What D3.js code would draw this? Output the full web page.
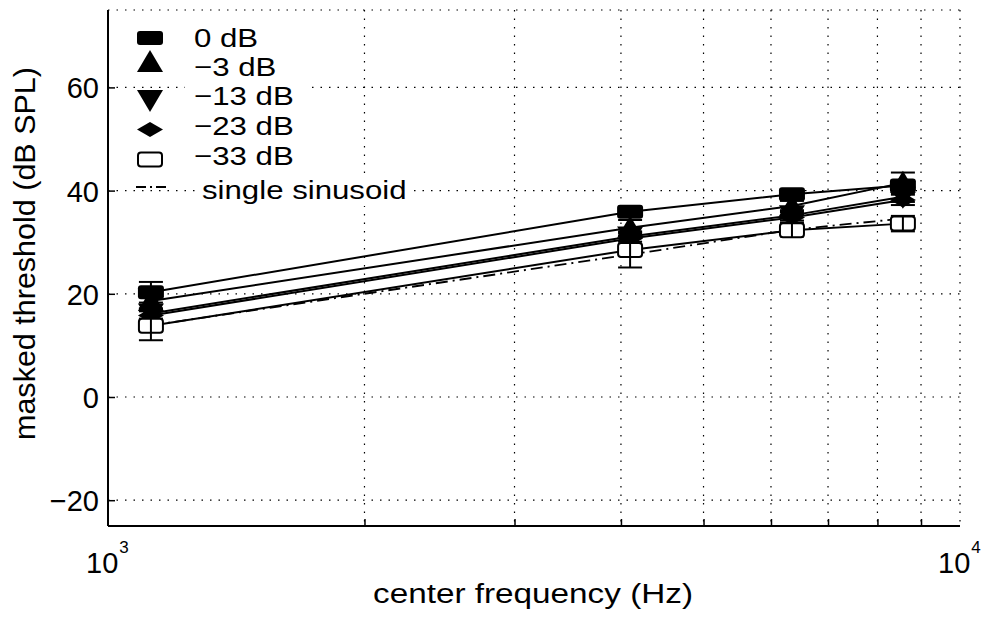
<!DOCTYPE html>
<html>
<head>
<meta charset="utf-8">
<script src="https://cdn.jsdelivr.net/npm/d3@7"></script>
<style>
  body { margin: 0; background: #fff; }
  svg { display: block; }
  text { font-family: "Liberation Sans", Arial, Helvetica, sans-serif; fill: #000; }
  .grid line { stroke: #000; stroke-width: 1.2; stroke-dasharray: 1.5, 7; }
</style>
</head>
<body>
<svg width="989" height="619"></svg>
<script>
// center frequencies (Hz)
const frequencies = [1123, 4100, 6350, 8570];

// masker levels (legend labels)
const seriesNames = ['0 dB', '\u22123 dB', '\u221213 dB', '\u221223 dB', '\u221233 dB'];

// masked thresholds (dB SPL) per masker level
const thr0 = [20.3, 35.9, 39.3, 41.0];
const thr3 = [18.6, 32.8, 37.0, 41.5];
const thr13 = [16.2, 31.1, 35.2, 38.8];
const thr23 = [15.8, 30.7, 34.8, 38.2];
const thr33 = [13.8, 28.5, 32.3, 33.6];

// error bar half-widths (dB)
const err0 = [2.0, 1.0, 1.0, 1.0];
const err3 = [1.5, 1.5, 1.0, 2.0];
const err13 = [1.0, 1.0, 1.0, 1.0];
const err23 = [1.0, 1.0, 1.0, 1.0];
const err33 = [2.8, 3.4, 1.2, 1.5];

// single sinusoid reference
const sinusoid = [13.9, 27.6, 32.4, 34.6];

const yTicks = [-20, 0, 20, 40, 60];
const xGrid = [2000, 3000, 4000, 5000, 6000, 7000, 8000, 9000];

const series = [
  { name: seriesNames[0], values: thr0, err: err0, shape: 'square' },
  { name: seriesNames[1], values: thr3, err: err3, shape: 'up' },
  { name: seriesNames[2], values: thr13, err: err13, shape: 'down' },
  { name: seriesNames[3], values: thr23, err: err23, shape: 'diamond' },
  { name: seriesNames[4], values: thr33, err: err33, shape: 'open' }
];

const svg = d3.select('svg');
const pLeft = 108, pRight = 960, pTop = 10, pBottom = 526;

const x = d3.scaleLog().domain([1000, 10000]).range([pLeft, pRight]);
const y = d3.scaleLinear().domain([-25, 75]).range([pBottom, pTop]);

// stretch text horizontally around its start x (the figure is wider than tall)
function stretch(sel, x0, sx) {
  sel.attr('transform', `translate(${x0},0) scale(${sx},1) translate(${-x0},0)`);
}

// grid
const grid = svg.append('g').attr('class', 'grid');
grid.selectAll('.gy').data(yTicks).enter().append('line')
  .attr('x1', pLeft).attr('x2', pRight)
  .attr('y1', d => y(d)).attr('y2', d => y(d));
grid.selectAll('.gx').data(xGrid).enter().append('line')
  .attr('y1', pTop).attr('y2', pBottom)
  .attr('x1', d => x(d)).attr('x2', d => x(d));
// top and right edges, dotted
grid.append('line').attr('x1', pLeft).attr('x2', pRight).attr('y1', pTop).attr('y2', pTop);
grid.append('line').attr('x1', pRight).attr('x2', pRight).attr('y1', pTop).attr('y2', pBottom);

// axes
const yAxis = svg.append('g')
  .attr('transform', `translate(${pLeft},0)`)
  .call(d3.axisRight(y).tickValues(yTicks).tickSize(7).tickFormat(''));
yAxis.select('.domain').attr('d', `M0,${pTop}V${pBottom}`).attr('stroke-width', 2);
yAxis.selectAll('.tick line').attr('stroke-width', 1.5);

const xAxis = svg.append('g')
  .attr('transform', `translate(0,${pBottom})`)
  .call(d3.axisTop(x).tickValues(xGrid).tickSize(7).tickFormat(''));
xAxis.select('.domain').attr('d', `M${pLeft},0H${pRight}`).attr('stroke-width', 2);
xAxis.selectAll('.tick line').attr('stroke-width', 1.5);

// y tick labels
svg.selectAll('.ylab').data(yTicks).enter().append('text')
  .attr('x', 99).attr('y', d => y(d) + 11)
  .attr('text-anchor', 'end')
  .style('font-size', '29px')
  .text(d => d < 0 ? '\u2212' + Math.abs(d) : d);

// x tick labels 10^3, 10^4
[[1000, '3'], [10000, '4']].forEach(([v, e]) => {
  const t = svg.append('text')
    .attr('x', x(v) - 22).attr('y', 573)
    .style('font-size', '29px');
  t.append('tspan').text('10');
  t.append('tspan').attr('dy', -20).attr('dx', 1).style('font-size', '17px').text(e);
});

// axis titles
svg.append('text')
  .attr('transform', 'translate(35,253.5) rotate(-90)')
  .attr('text-anchor', 'middle')
  .attr('textLength', 373)
  .attr('lengthAdjust', 'spacingAndGlyphs')
  .style('font-size', '30px')
  .text('masked threshold (dB SPL)');

svg.append('text')
  .attr('x', 373).attr('y', 603)
  .attr('textLength', 320)
  .attr('lengthAdjust', 'spacingAndGlyphs')
  .style('font-size', '27px')
  .text('center frequency (Hz)');

// lines
const line = d3.line()
  .x((d, i) => x(frequencies[i]))
  .y(d => y(d));

series.forEach(s => {
  svg.append('path')
    .datum(s.values)
    .attr('d', line)
    .attr('fill', 'none')
    .attr('stroke', '#000')
    .attr('stroke-width', 2);
});

svg.append('path')
  .datum(sinusoid)
  .attr('d', line)
  .attr('fill', 'none')
  .attr('stroke', '#000')
  .attr('stroke-width', 1.8)
  .attr('stroke-dasharray', '12,5,2,5');

// marker shapes
function marker(g, shape, cx, cy) {
  if (shape === 'square') {
    g.append('rect').attr('x', cx - 13).attr('y', cy - 7).attr('width', 26).attr('height', 14)
      .attr('rx', 3).attr('fill', '#000');
  } else if (shape === 'open') {
    g.append('rect').attr('x', cx - 12).attr('y', cy - 7).attr('width', 24).attr('height', 14)
      .attr('rx', 3).attr('fill', '#fff').attr('stroke', '#000').attr('stroke-width', 2);
  } else if (shape === 'up') {
    g.append('path').attr('d', `M${cx},${cy - 12}L${cx + 13},${cy + 10}L${cx - 13},${cy + 10}Z`).attr('fill', '#000');
  } else if (shape === 'down') {
    g.append('path').attr('d', `M${cx},${cy + 12}L${cx + 13},${cy - 10}L${cx - 13},${cy - 10}Z`).attr('fill', '#000');
  } else if (shape === 'diamond') {
    g.append('path').attr('d', `M${cx - 13},${cy}L${cx},${cy - 7.5}L${cx + 13},${cy}L${cx},${cy + 7.5}Z`).attr('fill', '#000');
  }
}

// error bars + markers
series.forEach(s => {
  const g = svg.append('g');
  s.values.forEach((v, i) => {
    const cx = x(frequencies[i]);
    const y1 = y(v + s.err[i]), y2 = y(v - s.err[i]);
    g.append('line').attr('x1', cx).attr('x2', cx).attr('y1', y1).attr('y2', y2)
      .attr('stroke', '#000').attr('stroke-width', 2);
    [y1, y2].forEach(yy => g.append('line')
      .attr('x1', cx - 12).attr('x2', cx + 12).attr('y1', yy).attr('y2', yy)
      .attr('stroke', '#000').attr('stroke-width', 2));
  });
  s.values.forEach((v, i) => marker(g, s.shape, x(frequencies[i]), y(v)));
});

// errorbar stem visible through the open squares
series.filter(s => s.shape === 'open').forEach(s => {
  s.values.forEach((v, i) => {
    const cx = x(frequencies[i]);
    svg.append('line').attr('x1', cx).attr('x2', cx)
      .attr('y1', y(v) - 7).attr('y2', y(v) + 7)
      .attr('stroke', '#000').attr('stroke-width', 2);
  });
});

// legend
const legend = svg.append('g').attr('class', 'legend');
const legendMarkY = [38, 62, 100, 129.5, 159.5];
const legendTextY = [47, 76, 105, 135, 165];
legend.append('rect').attr('x', 185).attr('y', 22).attr('width', 120).attr('height', 150).attr('fill', '#fff');
legend.append('rect').attr('x', 196).attr('y', 176).attr('width', 215).attr('height', 30).attr('fill', '#fff');
series.forEach((s, i) => {
  marker(legend, s.shape, 150, legendMarkY[i]);
  legend.append('text')
    .attr('x', 194).attr('y', legendTextY[i])
    .style('font-size', '26px')
    .text(s.name)
    .call(stretch, 194, 1.2);
});
legend.append('line')
  .attr('x1', 136).attr('x2', 166).attr('y1', 187).attr('y2', 187)
  .attr('stroke', '#000').attr('stroke-width', 1.8)
  .attr('stroke-dasharray', '10,4,2,4');
legend.append('text')
  .attr('x', 202).attr('y', 199)
  .style('font-size', '26px')
  .text('single sinusoid')
  .call(stretch, 202, 1.2);
</script>
</body>
</html>
